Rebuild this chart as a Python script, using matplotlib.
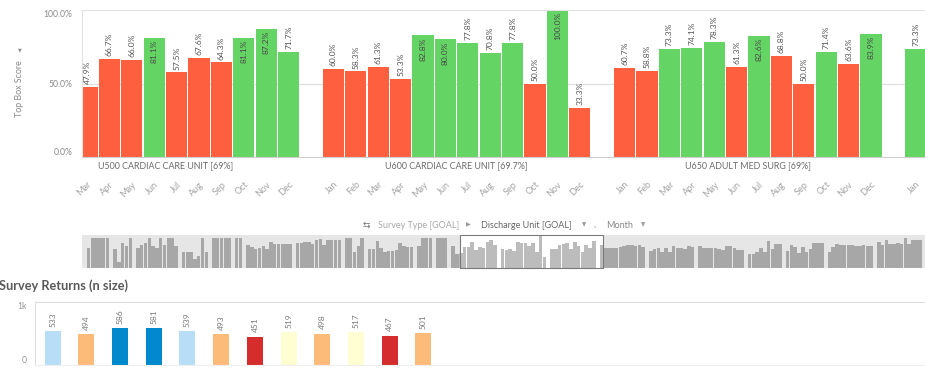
import matplotlib
matplotlib.use("Agg")
import matplotlib.pyplot as plt
from matplotlib.patches import Rectangle
import matplotlib.transforms as mtransforms

plt.rcParams['font.family'] = ['Lato', 'DejaVu Sans']

# ---------------- data ----------------
months = ['Jan', 'Feb', 'Mar', 'Apr', 'May', 'Jun', 'Jul', 'Aug', 'Sep', 'Oct', 'Nov', 'Dec']
unit_labels = ['U500 CARDIAC CARE UNIT [69%]', 'U600 CARDIAC CARE UNIT [69.7%]',
               'U650 ADULT MED SURG [69%]', '']
unit_goals = [69.0, 69.7, 69.0, 69.0]
u500 = [69, 44, 47.9, 66.7, 66.0, 81.1, 57.5, 67.6, 64.3, 81.1, 87.2, 71.7]
u600 = [60.0, 58.3, 61.3, 53.3, 82.8, 80.0, 77.8, 70.8, 77.8, 50.0, 100.0, 33.3]
u650 = [60.7, 58.8, 73.3, 74.1, 78.3, 61.3, 82.6, 68.8, 50.0, 71.4, 63.6, 83.9]
unit_next = [73.3, 62, 64, 64, 64, 66, 70, 72, 72, 70, 72, 66]

# scroll-bar overview: other units (approximate heights, %)
mini_before = [
    [64, 95, 95, 95, 95, 95],
    [59, 18, 80, 69, 95],
    [64, 74, 80, 95, 69, 64, 95, 74, 95, 95, 69],
    [49, 49, 49, 29, 39, 95, 49],
    [95, 95, 95, 95, 95],
    [95, 95],
    [72, 66, 59, 62, 68, 59, 83, 77, 75, 75, 76, 75],
    [78, 78, 82, 83, 77, 87, 90, 74, 87, 87, 87, 87],
    [95, 95, 49, 69, 95],
    [59, 59, 85, 64, 49, 54, 54, 56, 78, 69, 66, 66],
    [69, 95, 95, 95],
    [95, 95, 95],
]
mini_after = [
    [55, 60, 62, 50, 62, 50, 70, 62, 62, 60, 70, 66],
    [68, 62, 62, 62, 64, 60, 58, 68, 68, 64, 58, 58],
    [45, 45, 52, 62, 50, 85, 60, 75, 75],
    [55, 72, 66, 46, 66, 50, 60, 80, 80, 80],
    [49, 66, 76, 72, 72, 72, 72, 69, 69, 74, 69, 69],
    [83, 72, 87, 77, 77, 79, 77, 93, 77, 87, 87, 87],
]

returns_values = [533, 494, 586, 581, 539, 493, 451, 519, 498, 517, 467, 501]
returns_colors = ['#b7def6', '#fdbb7a', '#0288cc', '#0288cc', '#b7def6', '#fdbb7a',
                  '#d52d2d', '#fefed2', '#fdbb7a', '#fefed2', '#d52d2d', '#fdbb7a']

RED = '#fe5f3f'
GREEN = '#64d464'

# ---------------- figure ----------------
W, H = 925, 372
fig = plt.figure(figsize=(W / 100, H / 100), dpi=100)
fig.patch.set_facecolor('white')


def ax_px(l, t, r, b):
    return fig.add_axes([l / W, 1 - b / H, (r - l) / W, (b - t) / H])


# ---------------- main chart ----------------
ax = ax_px(82, 10, 925, 157)
main_groups = [u500, u600, u650, unit_next]
positions, vals, cols, ticklabels = [], [], [], []
group_centers = []
start = 0
for g, goal in zip(main_groups, unit_goals):
    idx = list(range(start, start + len(g)))
    positions += idx
    vals += g
    cols += [GREEN if v >= goal else RED for v in g]
    ticklabels += months[:len(g)]
    group_centers.append((idx[0] + idx[-1]) / 2)
    start += len(g) + 1

main_left = 2 - 0.223
main_right = main_left + 843 / 22.4
ax.bar(positions, vals, width=0.94, color=cols, zorder=2)

for x, v in zip(positions, vals):
    if x < main_left or x > main_right:
        continue
    lab = f'{v:.1f}%'
    if v >= 79.5:
        ax.annotate(lab, (x, v), xytext=(0, -1.5), textcoords='offset points',
                    rotation=90, ha='center', va='top', fontsize=6, color='#4a4a4a',
                    zorder=3)
    else:
        ax.annotate(lab, (x, v), xytext=(0, 2), textcoords='offset points',
                    rotation=90, ha='center', va='bottom', fontsize=6, color='#555555',
                    zorder=3)

trans = mtransforms.blended_transform_factory(ax.transData, ax.transAxes)
for c, lab in zip(group_centers, unit_labels):
    if lab and main_left < c < main_right:
        ax.text(c, -0.061, lab, transform=trans, ha='center', va='center',
                fontsize=6.4, color='#6b6b6b')

ax.set_xticks(positions)
ax.set_xticklabels(ticklabels, rotation=45, ha='right', rotation_mode='anchor',
                   fontsize=6.6, color='#a3a3a3')
ax.tick_params(axis='x', length=0, pad=16.5)
ax.set_xlim(main_left, main_right)
ax.set_ylim(0, 100)

ax.set_yticks([0, 50, 100])
ax.set_yticklabels(['0.0%', '50.0%', '100.0%'], fontsize=6.2, color='#8a8a8a')
ax.tick_params(axis='y', length=0, pad=7)
ylabs = ax.get_yticklabels()
ylabs[0].set_va('bottom')
ylabs[2].set_va('top')
ax.axhline(50, color='#dcdcdc', lw=0.8, zorder=1)
ax.spines['right'].set_visible(False)
ax.spines['top'].set_color('#e2e2e2')
ax.spines['left'].set_color('#e2e2e2')
ax.spines['bottom'].set_color('#cfcfcf')
for s in ['top', 'left', 'bottom']:
    ax.spines[s].set_linewidth(0.8)

fig.text(20 / W, 1 - 89 / H, 'Top Box Score', rotation=90, ha='center', va='center',
         fontsize=6.4, color='#8a8a8a')
fig.text(20 / W, 1 - 50 / H, '▼', ha='center', va='center', fontsize=3.5,
         color='#8a8a8a', family=['DejaVu Sans'])

# ---------------- dimension bar ----------------
row_y = 1 - 225 / H
dim_parts = [
    (363, '⇆', '#777777', ['DejaVu Sans'], 6.5),
    (378, 'Survey Type [GOAL]', '#a8a8a8', None, 6.5),
    (466, '▶', '#999999', ['DejaVu Sans'], 4.5),
    (481, 'Discharge Unit [GOAL]', '#666666', None, 6.5),
    (582, '▼', '#999999', ['DejaVu Sans'], 4.0),
    (594, ',', '#888888', None, 6.5),
    (606, 'Month', '#888888', None, 6.5),
    (641, '▼', '#999999', ['DejaVu Sans'], 4.0),
]
for x, t, c, fam, fs in dim_parts:
    kw = {'family': fam} if fam else {}
    fig.text(x / W, row_y, t, ha='left', va='center', fontsize=fs, color=c, **kw)

# ---------------- overview (scroll) chart ----------------
mx = ax_px(82, 235, 925, 268)
mx.set_facecolor('#e6e6e6')
all_mini = mini_before + main_groups + mini_after
offset_main = sum(len(g) + 1 for g in mini_before)
sel_left = offset_main + main_left
sel_right = offset_main + main_right
pps = (603 - 460) / (main_right - main_left)
m_left = sel_left - (460 - 82) / pps
m_right = m_left + 843 / pps

mx.add_patch(Rectangle((sel_left, 0), sel_right - sel_left, 104, facecolor='white',
                       edgecolor='none', zorder=0.5))
start = 0
for g in all_mini:
    for i, v in enumerate(g):
        x = start + i
        inside = sel_left <= x <= sel_right
        mx.bar(x, v, width=0.92, color='#bcbcbc' if inside else '#a7a7a7',
               zorder=2, linewidth=0)
    start += len(g) + 1
mx.add_patch(Rectangle((sel_left, 0.5), sel_right - sel_left, 103, fill=False,
                       edgecolor='#7a7a7a', lw=0.8, zorder=3, clip_on=False))
mx.set_xlim(m_left, m_right)
mx.set_ylim(0, 104)
mx.set_xticks([])
mx.set_yticks([])
for s in mx.spines.values():
    s.set_visible(False)

# ---------------- survey returns ----------------
fig.text(-1 / W, 1 - 286 / H, 'Survey Returns (n size)', ha='left', va='center',
         fontsize=9.2, fontweight='bold', color='#595959')

bx = ax_px(35, 302, 925, 365)
bpos = list(range(len(returns_values)))
bx.bar(bpos, returns_values, width=0.475, color=returns_colors, zorder=2)
for x, v in zip(bpos, returns_values):
    bx.annotate(str(v), (x, v), xytext=(0, 3), textcoords='offset points', rotation=90,
                ha='center', va='bottom', fontsize=6, color='#7a7a7a')
b_left = -0.525
bx.set_xlim(b_left, b_left + 890 / 33.7)
bx.set_ylim(0, 1000)
bx.set_xticks([])
bx.set_yticks([0, 1000])
bx.set_yticklabels(['0', '1k'], fontsize=6.2, color='#999999')
bx.tick_params(axis='y', length=0, pad=6)
bl = bx.get_yticklabels()
bl[0].set_va('bottom')
bl[1].set_va('top')
bx.spines['right'].set_visible(False)
bx.spines['top'].set_color('#dddddd')
bx.spines['left'].set_color('#dddddd')
bx.spines['bottom'].set_color('#eeeeee')
for s in ['top', 'left', 'bottom']:
    bx.spines[s].set_linewidth(0.8)

fig.savefig('out.png', dpi=100, facecolor='white')
